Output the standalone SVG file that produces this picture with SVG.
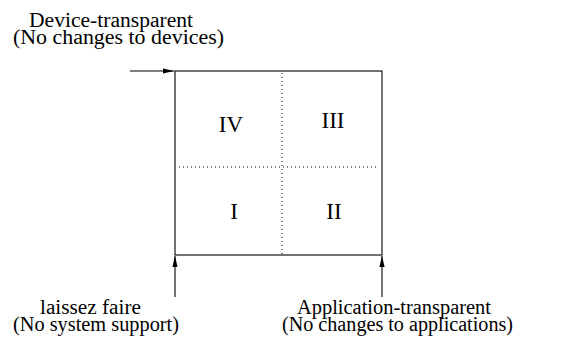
<svg xmlns="http://www.w3.org/2000/svg" width="565" height="338" viewBox="0 0 565 338">
  <style>
    .lbl { font-family: "Liberation Serif", "Times New Roman", serif; font-size: 20px; fill: #000; }
    .num { font-family: "Liberation Serif", "Times New Roman", serif; font-size: 23px; fill: #000; text-anchor: middle; }
    .edge { stroke: #000; stroke-width: 1.1; fill: none; }
    .dot { stroke: #000; stroke-width: 1; stroke-dasharray: 1 3; fill: none; }
  </style>
  <defs>
    <marker id="arrow" viewBox="0 0 11 6" refX="11" refY="3" markerWidth="11" markerHeight="6" markerUnits="userSpaceOnUse" orient="auto">
      <path d="M0,0.4 L11,3 L0,5.6 Z" fill="#000"/>
    </marker>
  </defs>
  <rect width="565" height="338" fill="#fff"/>

  <g id="quadrant-grid">
    <rect class="edge" x="175" y="71" width="207" height="184"/>
    <line class="dot" x1="282" y1="73" x2="282" y2="254"/>
    <line class="dot" x1="179" y1="167" x2="379" y2="167"/>
  </g>

  <g id="quadrant-IV"><text class="num" x="231" y="132">IV</text></g>
  <g id="quadrant-III"><text class="num" x="333" y="128">III</text></g>
  <g id="quadrant-I"><text class="num" x="234" y="219">I</text></g>
  <g id="quadrant-II"><text class="num" x="334" y="219">II</text></g>

  <g id="device-transparent">
    <text class="lbl" x="29" y="27" textLength="164" lengthAdjust="spacingAndGlyphs">Device-transparent</text>
    <text class="lbl" x="13" y="44" textLength="211" lengthAdjust="spacingAndGlyphs">(No changes to devices)</text>
  </g>
  <g id="laissez-faire">
    <text class="lbl" x="40" y="314" textLength="101" lengthAdjust="spacingAndGlyphs">laissez faire</text>
    <text class="lbl" x="13" y="331" textLength="166" lengthAdjust="spacingAndGlyphs">(No system support)</text>
  </g>
  <g id="application-transparent">
    <text class="lbl" x="297" y="314" textLength="194" lengthAdjust="spacingAndGlyphs">Application-transparent</text>
    <text class="lbl" x="282" y="331" textLength="231" lengthAdjust="spacingAndGlyphs">(No changes to applications)</text>
  </g>

  <g id="connectors">
    <line class="edge" x1="130" y1="71" x2="174" y2="71" marker-end="url(#arrow)"/>
    <line class="edge" x1="175" y1="297" x2="175" y2="256" marker-end="url(#arrow)"/>
    <line class="edge" x1="382" y1="297" x2="382" y2="256" marker-end="url(#arrow)"/>
  </g>
</svg>
